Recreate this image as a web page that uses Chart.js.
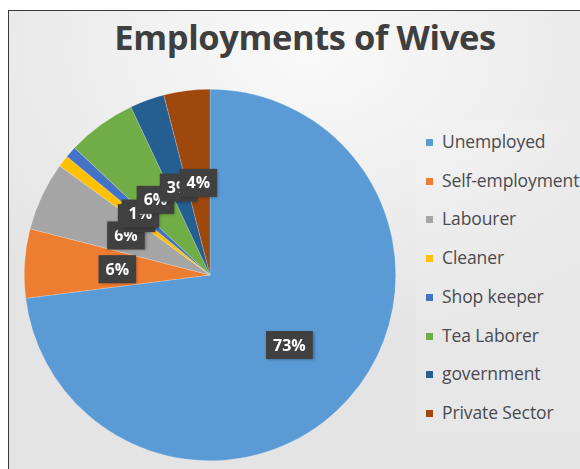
<!DOCTYPE html>
<html>
<head>
<meta charset="utf-8">
<script src="https://cdn.jsdelivr.net/npm/chart.js@4/dist/chart.umd.min.js"></script>
<style>
  body { margin: 0; width: 580px; height: 469px; overflow: hidden; background: #fff; position: relative; font-family: "Open Sans", sans-serif; }
  #frame { position: absolute; left: 8px; top: 10px; width: 620px; height: 520px; border: 1.5px solid #3a3a3a;
           background: radial-gradient(ellipse 420px 300px at 300px 40px, #fafafa 0%, #ececec 60%, #e4e4e4 100%); }
  #title { position: absolute; left: 0; width: 610px; top: 13px; text-align: center; font-size: 34.5px; font-weight: 700; color: #3f3f3f; letter-spacing: -0.4px; }
  #pieBox { position: absolute; left: 24px; top: 89px; width: 372px; height: 372px; }
  #legend { position: absolute; left: 416px; top: 120px; width: 200px; height: 312px; background: rgba(255,255,255,0.12); }
  .item { position: absolute; left: 10px; height: 24px; line-height: 24px; font-size: 17.5px; color: #4a4a50; white-space: nowrap; letter-spacing: -0.1px; }
  .item span { display: inline-block; width: 7px; height: 7px; margin-right: 9px; vertical-align: 2px; }
</style>
</head>
<body>
<div id="frame"></div>
<div id="title">Employments of Wives</div>
<div id="pieBox"><canvas id="pieChart"></canvas></div>
<div id="legend"></div>
<script>
// ===== MA'LUMOTLAR =====
var categories = ["Unemployed", "Self-employment", "Labourer", "Cleaner", "Shop keeper", "Tea Laborer", "government", "Private Sector"];
var percents = [73, 6, 6, 1, 1, 6, 3, 4];
var colors = ["#5B9BD5", "#ED7D31", "#A5A5A5", "#FFC000", "#4472C4", "#70AD47", "#255E91", "#9E480E"];

// legend (html)
var legendEl = document.getElementById("legend");
for (var i = 0; i < categories.length; i++) {
    var row = document.createElement("div");
    row.className = "item";
    row.style.top = (9 + i * 38.7) + "px";
    row.innerHTML = '<span style="background:' + colors[i] + '"></span>' + categories[i];
    legendEl.appendChild(row);
}

// data label boxes, Excel style
var boxLabels = {
    id: "boxLabels",
    afterDatasetsDraw: function(chart) {
        var ctx = chart.ctx;
        var meta = chart.getDatasetMeta(0);
        var total = percents.reduce(function(a, b) { return a + b; }, 0);
        ctx.save();
        ctx.font = "bold 16px 'Open Sans', sans-serif";
        ctx.textAlign = "center";
        ctx.textBaseline = "middle";
        for (var i = 0; i < meta.data.length; i++) {
            var arc = meta.data[i];
            var mid = (arc.startAngle + arc.endAngle) / 2;
            var k = percents[i] > 50 ? 0.57 : 0.5;
            var x = arc.x + Math.cos(mid) * arc.outerRadius * k;
            var y = arc.y + Math.sin(mid) * arc.outerRadius * k;
            var txt = Math.round(percents[i] / total * 100) + "%";
            var w = ctx.measureText(txt).width + 14;
            var h = 28;
            ctx.shadowColor = "rgba(0,0,0,0.35)";
            ctx.shadowBlur = 3;
            ctx.shadowOffsetX = 1;
            ctx.shadowOffsetY = 1;
            ctx.fillStyle = "#404040";
            ctx.fillRect(x - w / 2, y - h / 2, w, h);
            ctx.shadowColor = "transparent";
            ctx.fillStyle = "#ffffff";
            ctx.fillText(txt, x, y + 1);
        }
        ctx.restore();
    }
};

new Chart(document.getElementById("pieChart"), {
    type: "pie",
    data: {
        labels: categories,
        datasets: [{ data: percents, backgroundColor: colors, borderColor: "rgba(255,255,255,0.4)", borderWidth: 0.5 }]
    },
    options: {
        responsive: true,
        maintainAspectRatio: false,
        animation: false,
        layout: { padding: 0 },
        plugins: { legend: { display: false }, tooltip: { enabled: false } }
    },
    plugins: [boxLabels]
});
</script>
</body>
</html>
